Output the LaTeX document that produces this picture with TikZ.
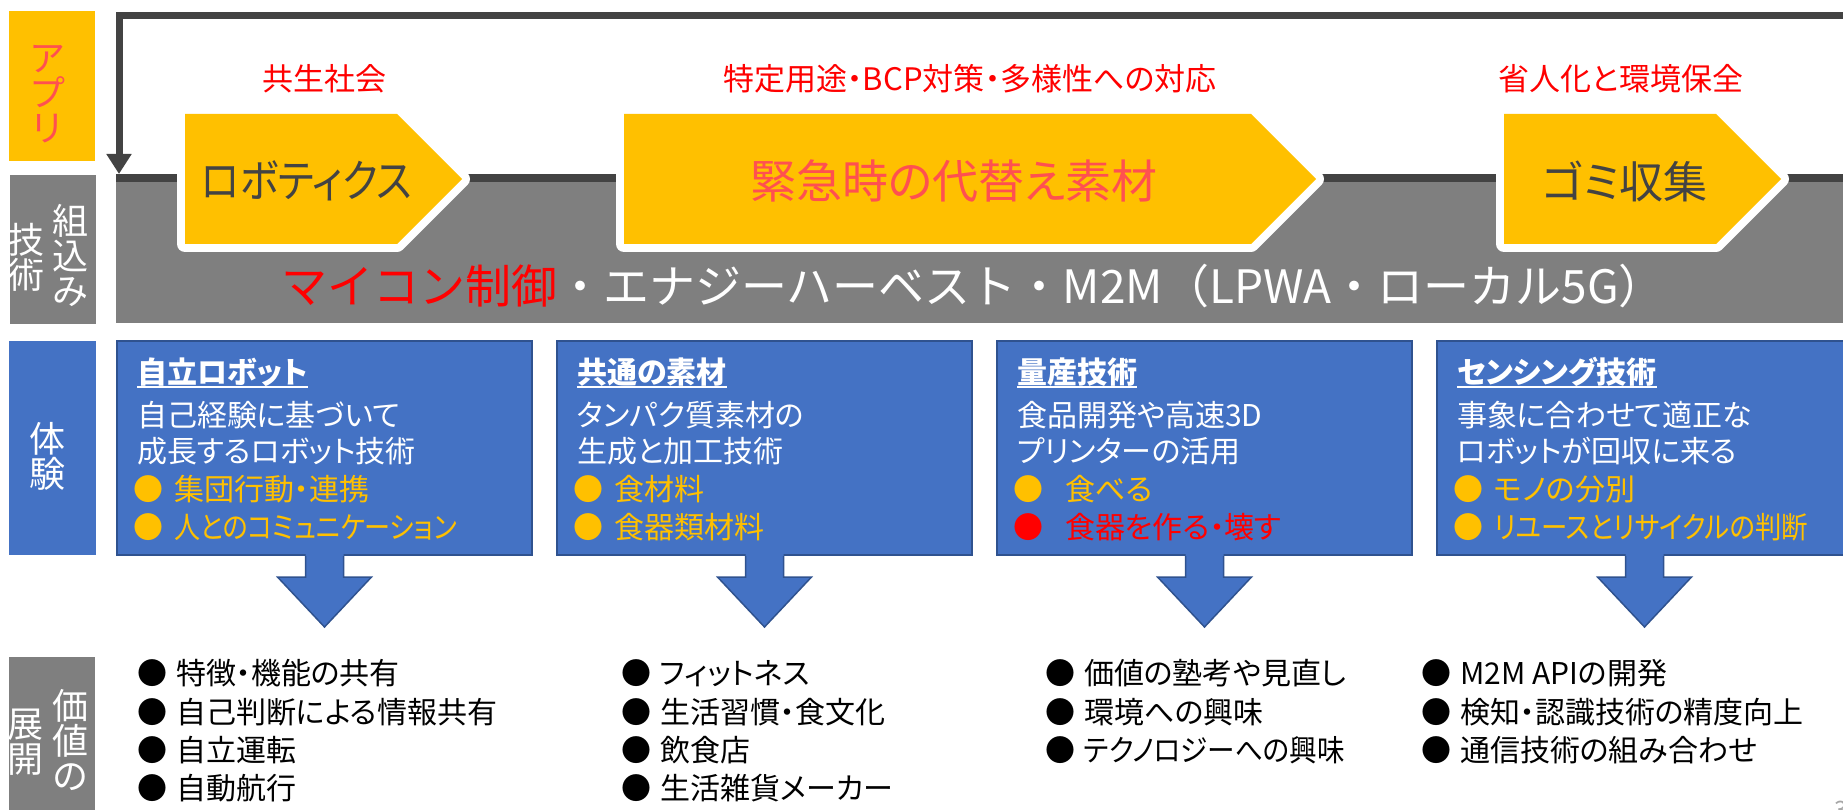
\documentclass[tikz,border=0pt]{standalone}
\usepackage{fontspec}
\usepackage{graphicx}
\setmainfont{Noto Sans CJK JP}
\newfontfamily\jpp{Noto Sans CJK JP}[RawFeature=+palt]
\usetikzlibrary{arrows.meta,calc}
\definecolor{ayellow}{HTML}{FFC000}
\definecolor{asalmon}{HTML}{FF5050}
\definecolor{ared}{HTML}{FF0000}
\definecolor{adark}{HTML}{434343}
\definecolor{agray}{HTML}{7F7F7F}
\definecolor{ablue}{HTML}{4472C4}
\definecolor{abluedk}{HTML}{2F528F}
\definecolor{apage}{HTML}{A6A6A6}
\newcommand\myul[1]{\setbox0\hbox{#1}\rlap{\rule[-5pt]{\wd0}{2.2pt}}\box0}
\newcommand\mybul[2]{{\color{#1}\rmfamily ●}\hspace{#2}}
\newcommand\barrow[1]{%
  \fill[ablue] ($(#1.south)+(-19,-1)$) -- ++(0,23) -- ++(-28,0) -- ++(47,50) -- ++(47,-50) -- ++(-28,0) -- ++(0,-23) -- cycle;
  \draw[abluedk, line width=1.5pt, line join=miter] ($(#1.south)+(-19,1)$) -- ++(0,21) -- ++(-28,0) -- ++(47,50) -- ++(47,-50) -- ++(-28,0) -- ++(0,-21);}
\begin{document}
\begin{tikzpicture}[x=1pt,y=-1pt,
  every node/.style={inner sep=0pt,outer sep=0pt},
  side/.style={anchor=north west},
  vlab/.style={font=\fontsize{36}{35}\selectfont, align=center, text=white},
  redlab/.style={font=\jpp\fontsize{31}{31}\selectfont, text=ared, anchor=base},
  btxt/.style={font=\jpp\fontsize{30}{30}\selectfont, text=white, anchor=base west},
  ltxt/.style={font=\jpp\fontsize{30}{30}\selectfont, text=black, anchor=base west},
  bluebox/.style={fill=ablue, draw=abluedk, line width=2pt, anchor=north west, minimum width=415pt, minimum height=214pt},
  penta/.style={fill=ayellow, preaction={draw=white, line width=16pt, line join=round}},
  pentatext/.style={font=\jpp\fontsize{45}{45}\selectfont, text=adark},
  loopline/.style={draw=adark, line width=7pt, -{Triangle[width=24pt,length=20pt]}},
]
\useasboundingbox (0,0) rectangle (1843,810);
\clip (0,0) rectangle (1843,810);

% left category boxes
\node[side, fill=ayellow, minimum width=86pt, minimum height=150pt] (appbox) at (9,11) {};
\node[vlab, text=asalmon] (app) at (47,94) {ア\\プ\\リ};
\node[side, fill=agray, minimum width=86pt, minimum height=149pt] (techbox) at (10,175) {};
\node[vlab] (tech1) at (70,255) {組\\込\\み};
\node[vlab] (tech2) at (27,257) {技\\術};
\node[side, fill=ablue, minimum width=87pt, minimum height=214pt] (expbox) at (9,341) {};
\node[vlab] (exp) at (47,456) {体\\験};
\node[side, fill=agray, minimum width=86pt, minimum height=160pt] (valbox) at (9,657) {};
\node[vlab] (val1) at (70,740) {価\\値\\の};
\node[vlab] (val2) at (26,742) {展\\開};

% gray technology band
\node[side, fill=agray, minimum width=1727pt, minimum height=149pt] (band) at (116,174) {};
\fill[adark] (116,174) rectangle (1843,182);
\node[font=\fontsize{46}{46}\selectfont, anchor=base west, text=white] (techrow) at (281,303)
  {\textcolor{ared}{マイコン制御}・エナジーハーベスト・M2M（LPWA・ローカル5G）};

% loop arrow
\coordinate (loopR) at (1843,16);
\coordinate (loopC) at (119,16);
\coordinate (bandin) at (119,174);
\draw[loopline] (loopR) -- (loopC) -- (bandin);

% application labels
\node[redlab] (lab1) at (324,91) {共生社会};
\node[redlab] (lab2) at (970,91) {特定用途・BCP対策・多様性への対応};
\node[redlab] (lab3) at (1621,91) {省人化と環境保全};

% pentagons
\path[penta] (185,114) -- (397,114) -- (462,179) -- (397,244) -- (185,244) -- cycle;
\node[pentatext] (robo) at (307,181) {\scalebox{0.88}[1]{ロボティクス}};
\path[penta] (624,114) -- (1251,114) -- (1316,179) -- (1251,244) -- (624,244) -- cycle;
\node[pentatext, text=asalmon, font=\jpp\fontsize{46}{46}\selectfont] (kinkyu) at (954,181) {緊急時の代替え素材};
\path[penta] (1504,114) -- (1716,114) -- (1781,179) -- (1716,244) -- (1504,244) -- cycle;
\node[pentatext, font=\jpp\fontsize{44}{44}\selectfont] (gomi) at (1625,181) {ゴミ収集};

% experience boxes
\node[bluebox] (box1) at (117,341) {};
\node[bluebox] (box2) at (557,341) {};
\node[bluebox] (box3) at (997,341) {};
\node[bluebox] (box4) at (1437,341) {};

\node[btxt] (b1t) at (137,383) {\bfseries\myul{自立ロボット}};
\node[btxt] (b1a) at (137,426) {自己経験に基づいて};
\node[btxt] (b1b) at (137,462) {成長するロボット技術};
\node[btxt, text=ayellow] (b1c) at (133,500) {\mybul{ayellow}{11pt}集団行動・連携};
\node[btxt, text=ayellow] (b1d) at (133,538) {\mybul{ayellow}{11pt}\scalebox{0.87}[1]{人とのコミュニケーション}};

\node[btxt] (b2t) at (577,383) {\bfseries\myul{共通の素材}};
\node[btxt] (b2a) at (577,426) {タンパク質素材の};
\node[btxt] (b2b) at (577,462) {生成と加工技術};
\node[btxt, text=ayellow] (b2c) at (573,500) {\mybul{ayellow}{11pt}食材料};
\node[btxt, text=ayellow] (b2d) at (573,538) {\mybul{ayellow}{11pt}食器類材料};

\node[btxt] (b3t) at (1017,383) {\bfseries\myul{量産技術}};
\node[btxt] (b3a) at (1017,426) {食品開発や高速3D};
\node[btxt] (b3b) at (1017,462) {プリンターの活用};
\node[btxt, text=ayellow] (b3c) at (1013,500) {\mybul{ayellow}{22pt}食べる};
\node[btxt, text=ared] (b3d) at (1013,538) {\mybul{ared}{22pt}食器を作る・壊す};

\node[btxt] (b4t) at (1457,383) {\bfseries\myul{センシング技術}};
\node[btxt] (b4a) at (1457,426) {事象に合わせて適正な};
\node[btxt] (b4b) at (1457,462) {ロボットが回収に来る};
\node[btxt, text=ayellow] (b4c) at (1453,500) {\mybul{ayellow}{11pt}モノの分別};
\node[btxt, text=ayellow] (b4d) at (1453,538) {\mybul{ayellow}{11pt}\scalebox{0.88}[1]{リユースとリサイクルの判断}};

% block arrows
\barrow{box1}
\barrow{box2}
\barrow{box3}
\barrow{box4}

% value lists
\node[ltxt] (l1a) at (137,684) {\mybul{black}{9pt}特徴・機能の共有};
\node[ltxt] (l1b) at (137,723) {\mybul{black}{9pt}自己判断による情報共有};
\node[ltxt] (l1c) at (137,761) {\mybul{black}{9pt}自立運転};
\node[ltxt] (l1d) at (137,799) {\mybul{black}{9pt}自動航行};

\node[ltxt] (l2a) at (621,684) {\mybul{black}{9pt}フィットネス};
\node[ltxt] (l2b) at (621,723) {\mybul{black}{9pt}生活習慣・食文化};
\node[ltxt] (l2c) at (621,761) {\mybul{black}{9pt}飲食店};
\node[ltxt] (l2d) at (621,799) {\mybul{black}{9pt}生活雑貨メーカー};

\node[ltxt] (l3a) at (1045,684) {\mybul{black}{9pt}価値の塾考や見直し};
\node[ltxt] (l3b) at (1045,723) {\mybul{black}{9pt}環境への興味};
\node[ltxt] (l3c) at (1045,761) {\mybul{black}{9pt}\scalebox{0.92}[1]{テクノロジーへの興味}};

\node[ltxt] (l4a) at (1421,684) {\mybul{black}{9pt}M2M APIの開発};
\node[ltxt] (l4b) at (1421,723) {\mybul{black}{9pt}検知・認識技術の精度向上};
\node[ltxt] (l4c) at (1421,761) {\mybul{black}{9pt}通信技術の組み合わせ};

\node[font=\fontsize{24}{24}\selectfont, text=apage, anchor=base west] (pg) at (1834,818) {3};
\end{tikzpicture}
\end{document}
